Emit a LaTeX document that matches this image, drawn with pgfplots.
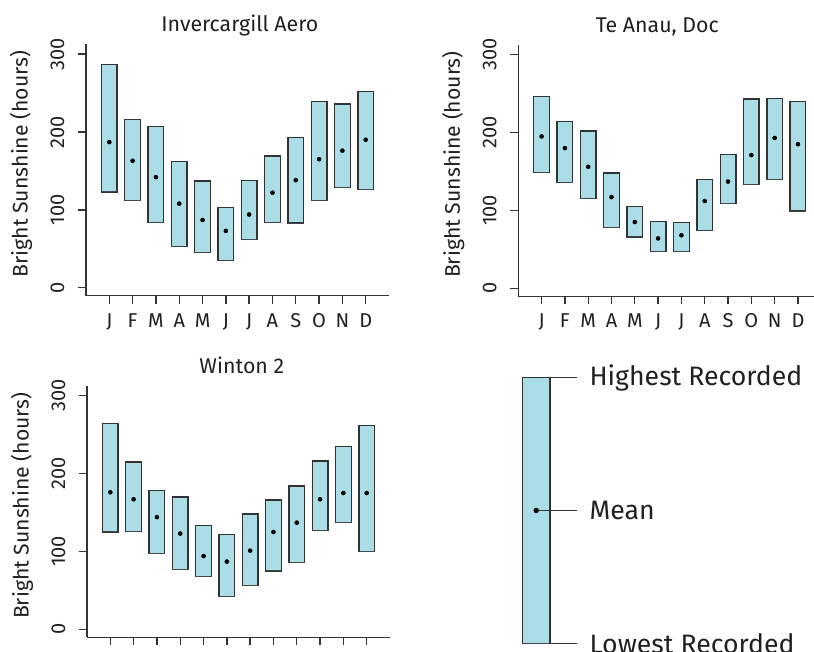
\documentclass[border=0pt]{standalone}
\usepackage{fontspec}
\setmainfont{Fira Sans}
\usepackage{pgfplots}
\usepackage{pgfplotstable}
\pgfplotsset{compat=1.18}
\usepgfplotslibrary{statistics}
\definecolor{boxfill}{HTML}{ABDDE6}
\definecolor{edge}{HTML}{333333}
\definecolor{txt}{HTML}{231F20}

% Invercargill Aero
\pgfplotstableread{
x lo hi mean
1 123 287 187
2 112 216 163
3 84 207 142
4 53 162 108
5 45 137 87
6 35 103 73
7 62 138 94
8 84 169 122
9 83 193 138
10 112 239 165
11 129 236 176
12 126 252 190
}\dataA
% Te Anau, Doc
\pgfplotstableread{
x lo hi mean
1 149 246 195
2 136 214 180
3 115 202 156
4 78 148 117
5 66 105 85
6 47 86 64
7 47 84 68
8 74 140 112
9 109 172 137
10 133 243 171
11 140 244 193
12 99 240 185
}\dataB
% Winton 2
\pgfplotstableread{
x lo hi mean
1 125 264 176
2 126 215 167
3 97 178 144
4 77 170 123
5 68 133 94
6 42 122 87
7 56 148 101
8 75 166 125
9 86 184 137
10 127 216 167
11 137 235 175
12 100 262 175
}\dataC
% key
\pgfplotstableread{
x lo hi mean
56.2 0 100 50
}\dataK

\pgfplotsset{
  panel/.style={
    scale only axis, width=227.25pt, height=188.8pt,
    xmin=0, xmax=13, ymin=-10.3, ymax=313,
    axis lines*=left,
    axis line style={edge, line width=1pt},
    tick style={edge, line width=1pt},
    tick align=outside, major tick length=6pt,
    xtick={1,...,12}, xticklabels={J,F,M,A,M,J,J,A,S,O,N,D},
    ytick={0,100,200,300},
    /pgf/number format/assume math mode=true,
    ticklabel style={font=\fontsize{15}{18}\selectfont, text=txt, inner sep=0pt},
    xticklabel style={anchor=base, yshift=-17.7pt},
    yticklabel style={xshift=-10pt, rotate=90, anchor=south},
    ylabel={Bright Sunshine (hours)},
    ylabel style={at={(axis description cs:-0.2145,0.523)}, anchor=center,
      font=\fontsize{15.9}{19}\selectfont, text=txt},
    title style={anchor=base, yshift=3pt, font=\fontsize{16}{19}\selectfont, text=txt, inner sep=0pt},
    clip=false,
  },
  boxes/.style={draw=edge, line width=1pt, fill=boxfill,
    boxplot/every whisker/.style={draw=none},
    boxplot/every median/.style={draw=none}},
  means/.style={only marks, mark=*, mark size=1.5pt, color=black},
}

% one box: table, row, draw position, box width
\newcommand{\drawbox}[4]{%
  \pgfplotstablegetelem{#2}{lo}\of{#1}\let\blo\pgfplotsretval
  \pgfplotstablegetelem{#2}{hi}\of{#1}\let\bhi\pgfplotsretval
  \edef\tmp{\noexpand\addplot[boxes, boxplot prepared={draw direction=y,
      draw position=#3, box extend=#4, whisker extend=0,
      lower whisker=\blo, upper whisker=\bhi, lower quartile=\blo,
      upper quartile=\bhi, median=\blo}] coordinates {};}%
  \tmp
}
\newcommand{\drawpanel}[1]{%
  \pgfplotsinvokeforeach{0,...,11}{%
    \pgfmathtruncatemacro\bpos{##1+1}%
    \drawbox{#1}{##1}{\bpos}{0.67}%
  }
  \addplot[means] table[x=x, y=mean] {#1};
}

\begin{document}
\begin{tikzpicture}
\useasboundingbox (0,0) rectangle (610.5pt,489pt);
\clip (0,0) rectangle (610.5pt,489pt);

\begin{axis}[panel, at={(64.5pt,267.2pt)}, anchor=south west,
  title={Invercargill Aero}, title style={at={(axis description cs:0.508,1)}}]
\drawpanel{\dataA}
\end{axis}

\begin{axis}[panel, at={(388.7pt,266.8pt)}, anchor=south west,
  title={Te Anau, Doc}, title style={at={(axis description cs:0.459,1)}}]
\drawpanel{\dataB}
\end{axis}

\begin{axis}[panel, at={(65.25pt,11pt)}, anchor=south west,
  title={Winton 2}, title style={at={(axis description cs:0.511,1)}}]
\drawpanel{\dataC}
\end{axis}

\begin{axis}[at={(360pt,6.525pt)}, anchor=south west, scale only axis,
  width=75pt, height=199.2pt, xmin=0, xmax=100, ymin=0, ymax=100,
  hide axis, clip=false]
\drawbox{\dataK}{0}{56.2}{27.7}
\addplot[edge, line width=1pt] coordinates {(70,100) (97.3,100)};
\addplot[edge, line width=1pt] coordinates {(56.2,50) (97.3,50)};
\addplot[edge, line width=1pt] coordinates {(70,0) (97.3,0)};
\addplot[means, mark size=1.8pt] table[x=x, y=mean] {\dataK};
\node[anchor=west, text=txt, font=\fontsize{20}{24}\selectfont, inner sep=0pt] at (axis cs:109.3,100) {Highest Recorded};
\node[anchor=west, text=txt, font=\fontsize{20}{24}\selectfont, inner sep=0pt] at (axis cs:109.3,50) {Mean};
\node[anchor=west, text=txt, font=\fontsize{20}{24}\selectfont, inner sep=0pt] at (axis cs:109.3,0) {Lowest Recorded};
\end{axis}
\end{tikzpicture}
\end{document}
